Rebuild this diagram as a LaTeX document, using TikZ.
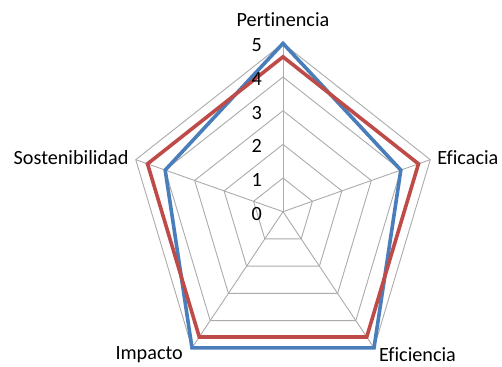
\documentclass[tikz,border=0pt]{standalone}
\usepackage{fontspec}
\setmainfont{Carlito}[Ligatures=NoCommon]
\usetikzlibrary{calc}
\definecolor{azul}{HTML}{4A7EBB}
\definecolor{rojo}{HTML}{BE4B48}
\definecolor{gris}{HTML}{ABABAB}

\begin{document}
\begin{tikzpicture}[x=1pt,y=1pt,
	rejilla/.style={draw=gris,line width=0.9pt},
	serie/.style={line width=3.6pt,line join=miter},
	eje/.style={font=\fontsize{20.2}{22}\selectfont,inner sep=0pt}]
	\useasboundingbox (0,0) rectangle (502,366);
	\begin{scope}[shift={(283,154.3)},xscale=0.92]
		%EJES
		\coordinate (o) at (0,0);
		\foreach \k in {0,...,4}{
			\coordinate (v\k) at ({90-72*\k}:168.3);
			\draw[rejilla] (o) -- (v\k);
		}
		%ANILLOS
		\foreach \r in {1,...,5}
			\draw[rejilla] (90:\r*33.66) -- (18:\r*33.66) -- (-54:\r*33.66) -- (-126:\r*33.66) -- (162:\r*33.66) -- cycle;
		%SERIES
		\draw[serie,draw=azul] (90:5*33.66) -- (18:4*33.66) -- (-54:5*33.66) -- (-126:5*33.66) -- (162:4*33.66) -- cycle;
		\draw[serie,draw=rojo] (90:4.6*33.66) -- (18:4.6*33.66) -- (-54:4.6*33.66) -- (-126:4.6*33.66) -- (162:4.6*33.66) -- cycle;
	\end{scope}
	%ESCALA
	\foreach \r in {0,...,5}
		\node[eje,anchor=base east] (n\r) at ($(o)+(-21,\r*33.66-8.4)$) {\r};
	%CATEGORIAS
	\node[eje,anchor=base] (pert) at ($(v0)+(0,16.6)$) {Pertinencia};
	\node[eje,anchor=base west] (efca) at ($(v1)+(7,-5)$) {Eficacia};
	\node[eje,anchor=base west] (efci) at ($(v2)+(5,-14)$) {Eficiencia};
	\node[eje,anchor=base east] (imp) at ($(v3)+(-9,-12)$) {Impacto};
	\node[eje,anchor=base east] (sost) at ($(v4)+(-7,-5)$) {Sostenibilidad};
\end{tikzpicture}
\end{document}
